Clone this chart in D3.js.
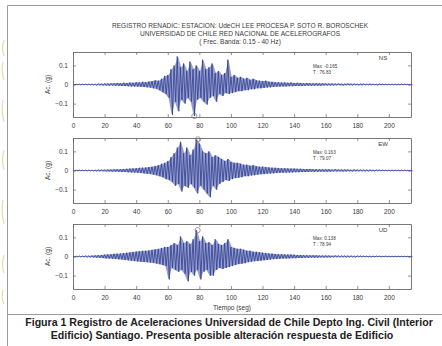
<!DOCTYPE html>
<html>
<head>
<meta charset="utf-8">
<script src="https://cdn.jsdelivr.net/npm/d3@7"></script>
<style>
  html, body { margin: 0; padding: 0; background: #fff; }
  svg { display: block; font-family: "Liberation Sans", Arial, sans-serif; }
</style>
</head>
<body>
<div id="chart"></div>
<script>
const timeStep = 2;
const xTicks = [0, 20, 40, 60, 80, 100, 120, 140, 160, 180, 200];
const yTicks = [-0.1, 0, 0.1];
const components = ['NS', 'EW', 'UD'];
const peakValues = [-0.165, 0.163, 0.138];
const peakTimes = [76.83, 79.07, 78.94];

const nsUp = [0.002,0.002,0.002,0.003,0.002,0.003,0.003,0.003,0.004,0.004,0.005,
  0.005,0.006,0.006,0.008,0.007,0.009,0.008,0.010,0.009,0.012,
  0.011,0.014,0.012,0.016,0.018,0.022,0.020,0.030,0.045,
  0.05,0.08,0.10,0.147,0.09,0.11,0.07,0.12,0.08,0.10,0.07,0.13,0.08,0.09,0.11,0.06,0.07,0.05,0.06,0.13,
  0.04,0.05,0.035,0.04,0.03,0.035,0.025,0.03,0.022,0.02,0.018,0.02,0.015,0.014,0.012,0.012,
  0.010,0.011,0.009,0.010,0.008,0.009,0.008,0.007,0.008,0.007,0.006,0.007,0.006,0.006,0.005,
  0.005,0.005,0.004,0.005,0.004,0.004,0.005,0.004,0.004,0.003,0.004,0.004,0.003,0.004,0.003,0.003,0.004,0.003,0.003,0.003,0.003,0.003,0.002,0.003,0.003,0.002,0.002];
const nsDown = [-0.002,-0.002,-0.003,-0.002,-0.003,-0.003,-0.003,-0.004,-0.004,-0.005,-0.005,
  -0.006,-0.005,-0.007,-0.007,-0.008,-0.008,-0.009,-0.010,-0.011,-0.011,
  -0.012,-0.013,-0.015,-0.016,-0.02,-0.022,-0.03,-0.04,-0.05,
  -0.07,-0.158,-0.09,-0.14,-0.08,-0.10,-0.07,-0.09,-0.165,-0.08,-0.07,-0.09,-0.105,-0.07,-0.06,-0.09,-0.05,-0.06,-0.045,-0.05,
  -0.045,-0.04,-0.035,-0.035,-0.03,-0.03,-0.025,-0.025,-0.02,-0.02,-0.018,-0.016,-0.015,-0.013,-0.012,-0.011,
  -0.010,-0.010,-0.009,-0.009,-0.008,-0.008,-0.008,-0.007,-0.007,-0.007,-0.006,-0.006,-0.006,-0.005,-0.005,
  -0.005,-0.005,-0.004,-0.004,-0.005,-0.004,-0.004,-0.004,-0.003,-0.004,-0.004,-0.003,-0.003,-0.003,-0.003,-0.004,-0.003,-0.003,-0.003,-0.003,-0.002,-0.003,-0.003,-0.002,-0.002,-0.002,-0.002];

const ewUp = [0.002,0.002,0.002,0.002,0.003,0.003,0.003,0.003,0.004,0.004,0.004,
  0.005,0.005,0.006,0.007,0.007,0.008,0.009,0.010,0.011,0.012,
  0.014,0.015,0.016,0.018,0.020,0.024,0.028,0.035,0.04,
  0.05,0.07,0.09,0.12,0.15,0.09,0.12,0.08,0.11,0.163,0.14,0.10,0.09,0.10,0.07,0.08,0.07,0.06,0.05,0.06,
  0.045,0.04,0.04,0.035,0.03,0.03,0.025,0.028,0.022,0.02,0.02,0.018,0.016,0.015,0.014,0.013,
  0.012,0.012,0.011,0.010,0.010,0.009,0.009,0.008,0.008,0.008,0.007,0.007,0.007,0.006,0.006,
  0.006,0.005,0.006,0.005,0.005,0.005,0.005,0.004,0.005,0.004,0.004,0.004,0.004,0.004,0.003,0.004,0.003,0.003,0.003,0.003,0.003,0.003,0.003,0.002,0.003,0.002,0.002];
const ewDown = [-0.002,-0.002,-0.002,-0.003,-0.003,-0.003,-0.003,-0.004,-0.004,-0.004,-0.005,
  -0.005,-0.006,-0.006,-0.007,-0.008,-0.008,-0.009,-0.010,-0.011,-0.012,
  -0.013,-0.015,-0.017,-0.018,-0.022,-0.025,-0.03,-0.035,-0.045,
  -0.05,-0.06,-0.08,-0.07,-0.11,-0.08,-0.09,-0.07,-0.09,-0.12,-0.08,-0.10,-0.12,-0.14,-0.08,-0.10,-0.07,-0.06,-0.05,-0.055,
  -0.045,-0.04,-0.038,-0.035,-0.03,-0.03,-0.026,-0.025,-0.022,-0.02,-0.019,-0.017,-0.016,-0.015,-0.013,-0.012,
  -0.012,-0.011,-0.011,-0.010,-0.009,-0.009,-0.008,-0.008,-0.008,-0.007,-0.007,-0.007,-0.006,-0.006,-0.006,
  -0.006,-0.005,-0.005,-0.005,-0.005,-0.005,-0.004,-0.005,-0.004,-0.004,-0.004,-0.004,-0.004,-0.003,-0.004,-0.003,-0.003,-0.003,-0.003,-0.003,-0.003,-0.002,-0.003,-0.002,-0.002,-0.002,-0.002];

const udUp = [0.002,0.002,0.003,0.003,0.004,0.004,0.005,0.006,0.007,0.008,0.010,
  0.011,0.012,0.014,0.015,0.016,0.018,0.020,0.022,0.024,0.026,
  0.028,0.030,0.030,0.032,0.035,0.038,0.04,0.045,0.05,
  0.05,0.06,0.07,0.06,0.105,0.07,0.08,0.065,0.09,0.138,0.08,0.105,0.07,0.075,0.06,0.09,0.065,0.06,0.07,0.09,
  0.05,0.045,0.04,0.04,0.035,0.03,0.03,0.025,0.025,0.022,0.02,0.018,0.016,0.015,0.013,0.012,
  0.012,0.011,0.010,0.010,0.009,0.008,0.008,0.007,0.007,0.006,0.006,0.006,0.005,0.005,0.005,
  0.005,0.004,0.005,0.004,0.004,0.004,0.004,0.004,0.003,0.004,0.003,0.003,0.003,0.003,0.003,0.003,0.003,0.002,0.003,0.002,0.002,0.002,0.002,0.002,0.002,0.002,0.002];
const udDown = [-0.002,-0.002,-0.003,-0.003,-0.004,-0.004,-0.005,-0.006,-0.007,-0.008,-0.010,
  -0.011,-0.012,-0.013,-0.015,-0.016,-0.018,-0.020,-0.022,-0.024,-0.026,
  -0.027,-0.029,-0.030,-0.032,-0.034,-0.037,-0.04,-0.045,-0.05,
  -0.12,-0.06,-0.07,-0.08,-0.07,-0.09,-0.13,-0.08,-0.10,-0.07,-0.12,-0.08,-0.07,-0.10,-0.10,-0.07,-0.06,-0.065,-0.06,-0.055,
  -0.05,-0.045,-0.04,-0.038,-0.035,-0.03,-0.028,-0.025,-0.024,-0.022,-0.02,-0.018,-0.016,-0.014,-0.013,-0.012,
  -0.011,-0.011,-0.010,-0.009,-0.009,-0.008,-0.008,-0.007,-0.007,-0.006,-0.006,-0.006,-0.005,-0.005,-0.005,
  -0.005,-0.004,-0.004,-0.004,-0.004,-0.004,-0.004,-0.003,-0.004,-0.003,-0.003,-0.003,-0.003,-0.003,-0.003,-0.002,-0.003,-0.002,-0.002,-0.002,-0.002,-0.002,-0.002,-0.002,-0.002,-0.002,-0.002];

const upSeries = [nsUp, ewUp, udUp];
const downSeries = [nsDown, ewDown, udDown];

const titleLines = [
  'REGISTRO RENADIC: ESTACION: UdeCH LEE PROCESA P. SOTO R. BOROSCHEK',
  'UNIVERSIDAD DE CHILE RED NACIONAL DE ACELEROGRAFOS',
  '( Frec. Banda: 0.15 - 40 Hz)'
];
const captionLines = [
  'Figura 1 Registro de Aceleraciones Universidad de Chile Depto Ing. Civil (Interior',
  'Edificio) Santiago. Presenta posible alteración respuesta de Edificio'
];

const W = 442, H = 346;
const panelTops = [52, 138, 224];
const panelH = 65;
const traceColor = '#2f3f95';
const inkColor = '#3a3a3a';

const svg = d3.select('#chart').append('svg')
  .attr('width', W)
  .attr('height', H);

svg.append('rect').attr('width', W).attr('height', H).attr('fill', '#fff');

// borde escaneado de la pagina (decoracion naranja a la izquierda)
svg.append('path')
  .attr('d', 'M4,40 q-3,8 0,16 M3,62 q-2,10 1,18 M3,100 q-2,12 1,22 M4,150 q-3,10 0,20 M3,200 q-2,12 1,24 M4,255 q-3,10 0,18 M3,290 q-2,8 1,14')
  .attr('fill', 'none').attr('stroke', '#e0a860').attr('stroke-width', 1.1).attr('opacity', 0.5);

// marco del recorte
svg.append('path')
  .attr('d', `M7.5,${H} V5.5 H${W}`)
  .attr('fill', 'none').attr('stroke', '#9a9a9a').attr('stroke-width', 1);
svg.append('line')
  .attr('x1', 7.5).attr('x2', W).attr('y1', 314.5).attr('y2', 314.5)
  .attr('stroke', '#9a9a9a').attr('stroke-width', 1);

// titulo
svg.append('g').selectAll('text')
  .data(titleLines)
  .join('text')
  .attr('x', 240)
  .attr('y', (d, i) => 28 + i * 8)
  .attr('text-anchor', 'middle')
  .attr('font-size', '6.6px')
  .attr('fill', inkColor)
  .text(d => d);

const x = d3.scaleLinear().domain([0, 214]).range([73, 411]);

components.forEach((comp, k) => {
  const top = panelTops[k];
  const y = d3.scaleLinear().domain([-0.17, 0.17]).range([top + panelH, top]);
  const g = svg.append('g');

  const env = upSeries[k].map((v, i) => ({ t: i * timeStep + 0.5, up: v, dn: downSeries[k][i] }));
  const pts = [];
  upSeries[k].forEach((v, i) => {
    pts.push({ t: i * timeStep, v: v });
    pts.push({ t: i * timeStep + 1, v: downSeries[k][i] });
  });

  // envolvente rellena (nucleo oscuro)
  g.append('path')
    .datum(env)
    .attr('fill', traceColor)
    .attr('opacity', 0.5)
    .attr('d', d3.area().x(d => x(d.t)).y0(d => y(d.dn)).y1(d => y(d.up)));

  // traza en zigzag
  g.append('path')
    .datum(pts)
    .attr('fill', 'none')
    .attr('stroke', traceColor)
    .attr('stroke-width', 0.8)
    .attr('d', d3.line().x(d => x(d.t)).y(d => y(d.v)));

  // ejes estilo matlab, ticks hacia adentro
  const axB = g.append('g').attr('transform', `translate(0,${top + panelH})`)
    .call(d3.axisBottom(x).tickValues(xTicks).tickSizeInner(-3).tickSizeOuter(0).tickPadding(6));
  const axT = g.append('g').attr('transform', `translate(0,${top})`)
    .call(d3.axisTop(x).tickValues(xTicks).tickSizeInner(-3).tickSizeOuter(0).tickFormat(''));
  const axL = g.append('g').attr('transform', `translate(73,0)`)
    .call(d3.axisLeft(y).tickValues(yTicks).tickSizeInner(-3).tickSizeOuter(0).tickPadding(5));
  const axR = g.append('g').attr('transform', `translate(411,0)`)
    .call(d3.axisRight(y).tickValues(yTicks).tickSizeInner(-3).tickSizeOuter(0).tickFormat(''));
  [axB, axT, axL, axR].forEach(a => {
    a.select('.domain').attr('stroke', '#555').attr('stroke-width', 0.8);
    a.selectAll('.tick line').attr('stroke', '#666').attr('stroke-width', 0.7);
    a.selectAll('text').attr('font-size', '6.5px').attr('fill', inkColor)
      .attr('font-family', '"Liberation Sans", Arial, sans-serif');
  });
  axL.selectAll('text').text(d => d === 0 ? '0' : d3.format('.1f')(d));

  g.append('text')
    .attr('transform', `translate(50,${y(0)}) rotate(-90)`)
    .attr('text-anchor', 'middle')
    .attr('font-size', '6.5px')
    .attr('fill', inkColor)
    .text('Ac. (g)');

  // componente y maximo
  g.append('text')
    .attr('x', 383).attr('y', top + 8)
    .attr('text-anchor', 'middle')
    .attr('font-size', '6px')
    .attr('fill', inkColor)
    .text(comp);
  g.append('text')
    .attr('x', 313).attr('y', top + 16)
    .attr('font-size', '4.6px')
    .attr('fill', inkColor)
    .text('Max: ' + peakValues[k]);
  g.append('text')
    .attr('x', 313).attr('y', top + 22)
    .attr('font-size', '4.6px')
    .attr('fill', inkColor)
    .text('T  : ' + peakTimes[k]);

  g.append('circle')
    .attr('cx', x(peakTimes[k]))
    .attr('cy', y(peakValues[k]))
    .attr('r', 2.6)
    .attr('fill', 'none')
    .attr('stroke', '#777')
    .attr('stroke-width', 0.7);

  if (k === 2) {
    g.append('text')
      .attr('x', 232).attr('y', top + panelH + 21)
      .attr('text-anchor', 'middle')
      .attr('font-size', '6.5px')
      .attr('fill', inkColor)
      .text('Tiempo (seg)');
  }
});

// pie de figura
svg.append('g').selectAll('text')
  .data(captionLines)
  .join('text')
  .attr('x', (d, i) => i === 0 ? 229 : 222)
  .attr('y', (d, i) => 326 + i * 12.5)
  .attr('text-anchor', 'middle')
  .attr('font-size', '10.6px')
  .attr('font-weight', 'bold')
  .attr('fill', '#222')
  .text(d => d);
</script>
</body>
</html>
